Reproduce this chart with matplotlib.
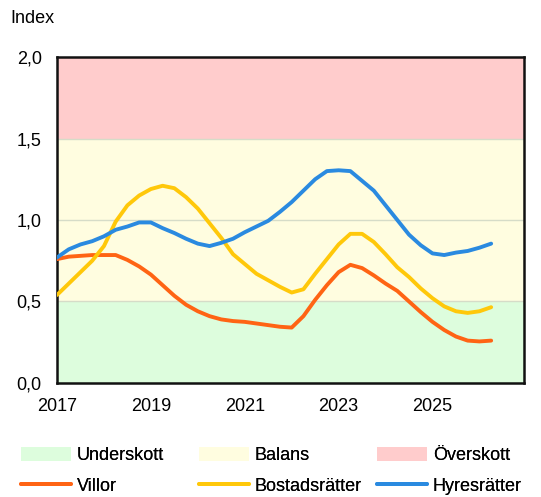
import numpy as np
import matplotlib.pyplot as plt
from matplotlib.patches import Patch
from matplotlib.lines import Line2D

plt.rcParams['font.family'] = ['Liberation Sans', 'DejaVu Sans']

## Data, quarterly from 2017 Q1
years = 2017 + np.arange(38) * 0.25

villor = [0.76, 0.775, 0.78, 0.785, 0.785, 0.785, 0.755, 0.715, 0.665, 0.60,
          0.535, 0.48, 0.44, 0.41, 0.39, 0.38, 0.375, 0.365, 0.355, 0.345,
          0.34, 0.41, 0.51, 0.60, 0.68, 0.725, 0.705, 0.66, 0.61, 0.565,
          0.50, 0.435, 0.375, 0.325, 0.285, 0.26, 0.255, 0.26]

bostadsratter = [0.54, 0.61, 0.68, 0.75, 0.84, 0.99, 1.09, 1.15, 1.19, 1.21,
                 1.195, 1.14, 1.07, 0.98, 0.89, 0.79, 0.73, 0.67, 0.63, 0.59,
                 0.555, 0.575, 0.67, 0.76, 0.85, 0.915, 0.915, 0.865, 0.79, 0.71,
                 0.65, 0.58, 0.52, 0.47, 0.44, 0.43, 0.44, 0.465]

hyresratter = [0.77, 0.82, 0.85, 0.87, 0.90, 0.94, 0.96, 0.985, 0.985, 0.95,
               0.92, 0.885, 0.855, 0.84, 0.86, 0.885, 0.925, 0.96, 0.995, 1.05,
               1.11, 1.18, 1.25, 1.30, 1.305, 1.30, 1.24, 1.18, 1.09, 1.00,
               0.91, 0.845, 0.795, 0.785, 0.80, 0.81, 0.83, 0.855]

zones = [('Underskott', 0.0, 0.5, '#ddfddd'),
         ('Balans', 0.5, 1.5, '#fffde0'),
         ('Överskott', 1.5, 2.0, '#ffcccc')]

series = [('Villor', villor, '#ff6414'),
          ('Bostadsrätter', bostadsratter, '#ffc80a'),
          ('Hyresrätter', hyresratter, '#2a8ae0')]

xticks = [2017, 2019, 2021, 2023, 2025]
yticks = [0.0, 0.5, 1.0, 1.5, 2.0]

FS = 13
LW = 2.8

fig = plt.figure(figsize=(5.41, 4.97), dpi=100)
ax = fig.add_axes([0.1054, 0.2294, 0.8632, 0.6559])

for name, lo, hi, col in zones:
    ax.axhspan(lo, hi, color=col, lw=0, zorder=0)
for yv in [0.5, 1.0, 1.5]:
    ax.axhline(yv, color='#d6dcc8', lw=1, zorder=1)

for name, vals, col in series:
    ax.plot(years, vals, color=col, lw=LW, solid_capstyle='round', zorder=3)

ax.set_xlim(2017, 2026.95)
ax.set_ylim(0, 2)
ax.set_xticks(xticks)
ax.set_xticklabels([str(x) for x in xticks])
ax.set_yticks(yticks)
ax.set_yticklabels([f'{y:.1f}'.replace('.', ',') for y in yticks])
ax.tick_params(length=0, labelsize=FS)
ax.tick_params(axis='y', pad=11)
ax.tick_params(axis='x', pad=11)
for s in ax.spines.values():
    s.set_linewidth(1.8)
    s.set_color('#111111')

fig.text(0.02, 0.963, 'Index', fontsize=FS, va='center', ha='left')

# one small legend per column, so the columns sit at fixed positions
col_x = [21 / 541, 199 / 541, 377 / 541]
for i in range(3):
    zname, _, _, zcol = zones[i]
    sname, _, scol = series[i]
    h = [Patch(facecolor=zcol, edgecolor='none'),
         Line2D([0], [0], color=scol, lw=LW, solid_capstyle='round')]
    leg = fig.legend(h, [zname, sname], loc='center left',
                     bbox_to_anchor=(col_x[i], 0.052), frameon=False,
                     fontsize=FS, handlelength=2.75, handleheight=0.75,
                     handletextpad=0.35, labelspacing=0.75, borderpad=0,
                     borderaxespad=0)
    fig.add_artist(leg)

fig.savefig('out.png', dpi=100)
